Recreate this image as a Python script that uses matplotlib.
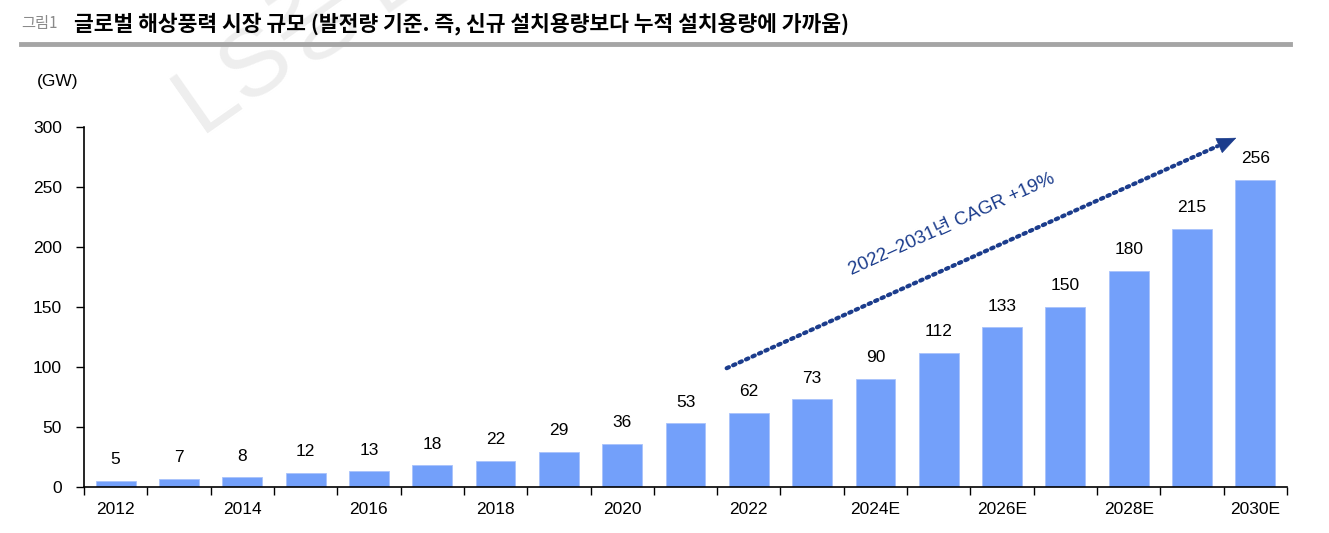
import matplotlib.pyplot as plt

# fonts: latin digits in Liberation Sans, korean falls back to Noto CJK
plt.rcParams['font.family'] = ['Liberation Sans', 'Noto Sans CJK KR', 'DejaVu Sans']

years = ['2012', '2013', '2014', '2015', '2016', '2017', '2018', '2019', '2020', '2021',
         '2022', '2023', '2024E', '2025E', '2026E', '2027E', '2028E', '2029E', '2030E']
capacity = [5, 7, 8, 12, 13, 18, 22, 29, 36, 53, 62, 73, 90, 112, 133, 150, 180, 215, 256]
yticks = [0, 50, 100, 150, 200, 250, 300]

bar_color = '#73a0fa'
navy = '#1b3c8c'

fig = plt.figure(figsize=(13.29, 5.33), dpi=100)
ax = fig.add_axes([0.0632, 0.0863, 0.9052, 0.6754])

x = list(range(len(years)))
ax.bar(x, capacity, width=0.63, color=bar_color, edgecolor='#a9c3fb', linewidth=0.6)

for xi, v in zip(x, capacity):
    ax.annotate(str(v), (xi, v), xytext=(0, 10), textcoords='offset points',
                ha='center', va='bottom', fontsize=12.5)

ax.set_xlim(-0.5, len(years) - 0.5)
ax.set_ylim(0, 300)
ax.set_yticks(yticks)
ax.tick_params(axis='y', labelsize=12.5, length=6, width=1, direction='out', pad=10)

# category labels every second year, ticks between bars
ax.set_xticks(x[::2])
ax.set_xticklabels(years[::2], fontsize=12.5)
ax.tick_params(axis='x', which='major', length=0, pad=11)
ax.set_xticks([i - 0.5 for i in range(len(years) + 1)], minor=True)
ax.tick_params(axis='x', which='minor', length=6, width=1, direction='out')

for s in ['top', 'right']:
    ax.spines[s].set_visible(False)
ax.spines['left'].set_linewidth(1.2)
ax.spines['bottom'].set_linewidth(1.2)

# CAGR arrow: dotted shaft + solid head
ax.annotate('', xy=(17.4, 284), xytext=(9.65, 99),
            arrowprops=dict(arrowstyle='-', color=navy, linestyle=(0, (0.6, 1.1)),
                            linewidth=3, shrinkA=0, shrinkB=0))
ax.annotate('', xy=(17.7, 291), xytext=(17.3, 281.5),
            arrowprops=dict(arrowstyle='-|>,head_length=1.3,head_width=0.55',
                            color=navy, linewidth=0.5, shrinkA=0, shrinkB=0))
ax.text(13.2, 219, '2022–2031년 CAGR +19%', rotation=24.5, color=navy,
        fontsize=13.5, ha='center', va='center', rotation_mode='anchor')

ax.text(-0.91, 338, '(GW)', fontsize=12.5, ha='center', va='center', clip_on=False)

# watermark
fig.text(0.12, 0.72, 'LS증권', fontsize=70, color='#eeeeee', rotation=35, zorder=0,
         ha='left', va='bottom')

# header
fig.text(0.016, 0.955, '그림1', fontsize=11, color='#8a8a8a', va='center',
         family=['Noto Sans CJK KR'])
fig.text(0.056, 0.955, '글로벌 해상풍력 시장 규모 (발전량 기준. 즉, 신규 설치용량보다 누적 설치용량에 가까움)',
         fontsize=15.5, color='black', va='center', weight='bold', family=['Noto Sans CJK KR'])
fig.add_artist(plt.Line2D([0.016, 0.971], [0.917, 0.917], color='#a5a5a5', linewidth=3.5))

fig.savefig('out.png', dpi=100)
